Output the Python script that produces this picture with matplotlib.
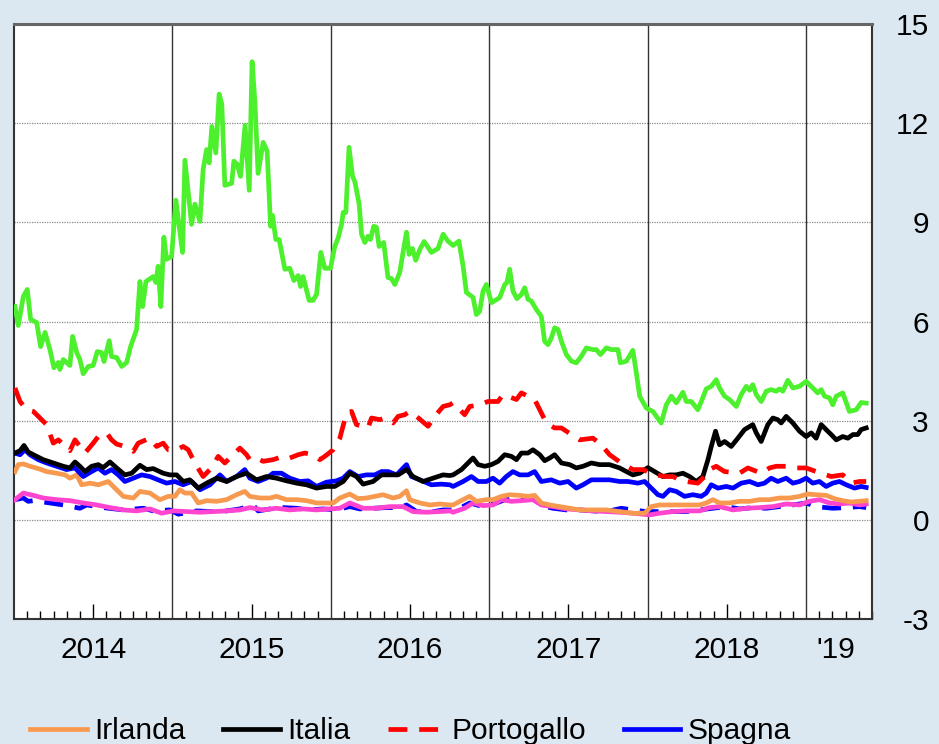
import matplotlib
matplotlib.use("Agg")
import matplotlib.pyplot as plt
import numpy as np

# anni dal 1 gennaio 2014 / spread (punti percentuali)
t_gr = [0.006, 0.027, 0.059, 0.084, 0.105, 0.143, 0.168, 0.196, 0.227, 0.252, 0.280, 0.290, 0.311, 0.353,
        0.370, 0.396, 0.416, 0.437, 0.469, 0.500, 0.526, 0.553, 0.568, 0.601, 0.616, 0.648, 0.680, 0.711,
        0.736, 0.774, 0.795, 0.812, 0.833, 0.879, 0.896, 0.910, 0.927, 0.946, 0.963, 0.995, 1.022, 1.064,
        1.079, 1.121, 1.142, 1.174, 1.194, 1.216, 1.232, 1.249, 1.274, 1.295, 1.312, 1.331, 1.374, 1.388,
        1.409, 1.430, 1.459, 1.485, 1.503, 1.521, 1.541, 1.573, 1.598, 1.620, 1.632, 1.653, 1.674, 1.710,
        1.741, 1.767, 1.794, 1.809, 1.825, 1.863, 1.888, 1.910, 1.937, 1.962, 1.998, 2.025, 2.046, 2.068,
        2.078, 2.095, 2.115, 2.137, 2.153, 2.179, 2.194, 2.215, 2.235, 2.250, 2.271, 2.288, 2.305, 2.334,
        2.361, 2.383, 2.404, 2.435, 2.456, 2.478, 2.494, 2.515, 2.536, 2.562, 2.589, 2.635, 2.677, 2.709,
        2.740, 2.772, 2.809, 2.835, 2.856, 2.898, 2.919, 2.940, 2.961, 2.982, 3.014, 3.066, 3.098, 3.112,
        3.129, 3.150, 3.175, 3.203, 3.224, 3.245, 3.266, 3.298, 3.329, 3.350, 3.371, 3.392, 3.413, 3.434,
        3.456, 3.487, 3.519, 3.550, 3.582, 3.613, 3.655, 3.676, 3.702, 3.739, 3.771, 3.813, 3.828, 3.866,
        3.907, 3.929, 3.950, 3.992, 4.033, 4.086, 4.118, 4.150, 4.181, 4.223, 4.244, 4.276, 4.317, 4.339,
        4.370, 4.402, 4.433, 4.454, 4.486, 4.517, 4.560, 4.591, 4.623, 4.644, 4.664, 4.686, 4.717, 4.749,
        4.780, 4.812, 4.833, 4.854, 4.885, 4.917, 4.959, 5.001, 5.043, 5.074, 5.096, 5.117, 5.148, 5.169,
        5.191, 5.232, 5.274, 5.317, 5.348, 5.380]
grecia = [6.45, 5.88, 6.76, 6.97, 6.06, 5.97, 5.24, 5.67, 5.15, 4.60, 4.76, 4.55, 4.85, 4.67,
          5.55, 5.06, 4.85, 4.42, 4.64, 4.67, 5.09, 5.06, 4.79, 5.42, 4.94, 4.91, 4.64, 4.76,
          5.24, 5.76, 7.21, 6.45, 7.21, 7.36, 7.18, 7.67, 6.45, 8.55, 7.88, 7.97, 9.67, 8.09,
          10.88, 8.94, 9.55, 9.03, 10.6, 11.2, 10.8, 11.9, 11.1, 12.88, 12.58, 10.12, 10.18, 10.85,
          10.76, 10.39, 11.94, 9.97, 13.86, 12.64, 10.48, 11.42, 11.15, 8.88, 9.21, 8.48, 8.48, 7.58,
          7.61, 7.24, 7.39, 7.06, 7.36, 6.64, 6.64, 6.82, 8.09, 7.61, 7.61, 8.27, 8.52, 8.94,
          9.30, 9.30, 11.27, 10.4, 10.21, 9.55, 8.64, 8.39, 8.58, 8.48, 8.88, 8.85, 8.27, 8.39,
          7.33, 7.30, 7.12, 7.48, 8.09, 8.70, 8.03, 8.21, 7.85, 8.18, 8.42, 8.09, 8.21, 8.64,
          8.43, 8.30, 8.43, 7.68, 6.88, 6.73, 6.21, 6.31, 6.92, 7.12, 6.57, 6.72, 7.12, 7.18,
          7.58, 6.92, 6.69, 6.82, 7.02, 6.67, 6.62, 6.36, 6.16, 5.40, 5.30, 5.50, 5.81, 5.76,
          5.40, 5.00, 4.80, 4.75, 4.95, 5.20, 5.15, 5.15, 5.00, 5.20, 5.15, 5.15, 4.75, 4.80,
          5.13, 4.44, 3.74, 3.38, 3.28, 2.93, 3.48, 3.74, 3.54, 3.86, 3.58, 3.58, 3.33, 3.58,
          3.96, 4.04, 4.24, 3.99, 3.74, 3.64, 3.43, 3.79, 4.04, 3.92, 4.09, 3.79, 3.58, 3.89,
          3.94, 3.89, 3.96, 3.89, 4.22, 3.99, 4.04, 4.19, 3.99, 3.84, 3.94, 3.74, 3.69, 3.48,
          3.74, 3.84, 3.28, 3.33, 3.55, 3.53]

t_pt = [0.006, 0.038, 0.080, 0.122, 0.164, 0.206, 0.248, 0.280, 0.353, 0.385, 0.448, 0.500, 0.532, 0.553,
        0.585, 0.616, 0.648, 0.700, 0.753, 0.784, 0.858, 0.900, 0.942, 0.974, 1.027, 1.068, 1.100, 1.142,
        1.194, 1.247, 1.289, 1.331, 1.384, 1.426, 1.468, 1.489, 1.531, 1.573, 1.636, 1.699, 1.741, 1.794,
        1.836, 1.888, 1.931, 1.962, 2.015, 2.057, 2.099, 2.131, 2.162, 2.235, 2.257, 2.309, 2.341, 2.393,
        2.425, 2.467, 2.498, 2.541, 2.614, 2.656, 2.709, 2.751, 2.772, 2.845, 2.877, 2.940, 2.992, 3.056,
        3.087, 3.172, 3.203, 3.287, 3.319, 3.361, 3.413, 3.456, 3.519, 3.571, 3.655, 3.708, 3.760, 3.834,
        3.907, 3.971, 4.033, 4.107, 4.160, 4.202, 4.244, 4.317, 4.360, 4.391, 4.433, 4.486, 4.580, 4.633,
        4.717, 4.770, 4.812, 4.875, 4.917, 5.001, 5.064, 5.159, 5.232, 5.285, 5.338, 5.380]
portogallo = [3.99, 3.58, 3.33, 3.28, 3.08, 2.88, 2.32, 2.42, 2.09, 2.42, 2.02, 2.32, 2.52, 2.58,
              2.63, 2.42, 2.29, 2.22, 2.07, 2.32, 2.47, 2.22, 2.32, 2.12, 2.12, 2.22, 2.12, 1.72,
              1.31, 1.57, 1.92, 1.72, 1.97, 2.17, 1.97, 1.82, 1.87, 1.77, 1.82, 1.92, 1.87, 1.97,
              2.02, 1.97, 1.82, 1.92, 2.12, 2.47, 3.23, 3.28, 2.88, 2.78, 3.08, 3.03, 3.08, 2.93,
              3.13, 3.18, 3.28, 3.13, 2.83, 3.13, 3.43, 3.48, 3.54, 3.18, 3.43, 3.48, 3.58, 3.58,
              3.79, 3.64, 3.84, 3.64, 3.33, 2.93, 2.78, 2.78, 2.58, 2.42, 2.47, 2.27, 1.97, 1.72,
              1.52, 1.52, 1.38, 1.31, 1.31, 1.21, 1.16, 1.11, 1.31, 1.52, 1.62, 1.46, 1.41, 1.57,
              1.41, 1.57, 1.62, 1.62, 1.57, 1.57, 1.46, 1.31, 1.36, 1.11, 1.16, 1.16]

t_it = [0.006, 0.038, 0.063, 0.090, 0.143, 0.185, 0.248, 0.311, 0.353, 0.385, 0.416, 0.448, 0.490, 0.532,
        0.563, 0.606, 0.648, 0.700, 0.743, 0.795, 0.837, 0.879, 0.942, 0.984, 1.027, 1.068, 1.110, 1.163,
        1.216, 1.279, 1.342, 1.405, 1.468, 1.531, 1.594, 1.657, 1.720, 1.784, 1.847, 1.910, 1.973, 2.025,
        2.078, 2.120, 2.162, 2.204, 2.267, 2.320, 2.372, 2.425, 2.478, 2.519, 2.582, 2.645, 2.709, 2.751,
        2.772, 2.825, 2.856, 2.898, 2.930, 2.972, 3.014, 3.056, 3.098, 3.140, 3.172, 3.203, 3.245, 3.276,
        3.319, 3.350, 3.382, 3.413, 3.456, 3.508, 3.550, 3.592, 3.645, 3.697, 3.760, 3.823, 3.866, 3.907,
        3.950, 4.002, 4.044, 4.097, 4.139, 4.181, 4.223, 4.265, 4.307, 4.349, 4.381, 4.402, 4.429, 4.454,
        4.486, 4.528, 4.570, 4.612, 4.664, 4.686, 4.717, 4.759, 4.791, 4.822, 4.843, 4.875, 4.917, 4.959,
        5.001, 5.033, 5.064, 5.096, 5.127, 5.159, 5.191, 5.232, 5.264, 5.296, 5.327, 5.348, 5.380]
italia = [2.02, 2.09, 2.25, 2.05, 1.92, 1.82, 1.72, 1.62, 1.57, 1.75, 1.62, 1.46, 1.62, 1.67,
          1.58, 1.75, 1.57, 1.36, 1.41, 1.65, 1.52, 1.55, 1.41, 1.36, 1.36, 1.16, 1.21, 0.96,
          1.11, 1.26, 1.16, 1.31, 1.41, 1.21, 1.31, 1.26, 1.18, 1.11, 1.06, 0.96, 1.01, 1.01,
          1.16, 1.41, 1.31, 1.08, 1.16, 1.36, 1.36, 1.36, 1.52, 1.31, 1.16, 1.26, 1.36, 1.34,
          1.36, 1.52, 1.67, 1.87, 1.67, 1.62, 1.67, 1.77, 1.97, 1.92, 1.82, 2.02, 2.02, 2.12,
          1.97, 1.79, 1.87, 1.97, 1.72, 1.67, 1.57, 1.62, 1.72, 1.67, 1.67, 1.57, 1.46, 1.36,
          1.41, 1.58, 1.46, 1.31, 1.36, 1.36, 1.41, 1.31, 1.16, 1.31, 1.82, 2.22, 2.68, 2.27,
          2.37, 2.22, 2.47, 2.73, 2.88, 2.63, 2.37, 2.88, 3.08, 3.03, 2.93, 3.13, 2.93, 2.68,
          2.52, 2.63, 2.47, 2.88, 2.73, 2.58, 2.42, 2.52, 2.47, 2.58, 2.58, 2.73, 2.78]

t_es = [0.006, 0.038, 0.069, 0.101, 0.153, 0.206, 0.269, 0.332, 0.385, 0.437, 0.490, 0.532, 0.574, 0.616,
        0.658, 0.700, 0.753, 0.806, 0.858, 0.910, 0.963, 1.016, 1.068, 1.121, 1.174, 1.237, 1.300, 1.342,
        1.405, 1.457, 1.489, 1.541, 1.594, 1.636, 1.689, 1.741, 1.804, 1.857, 1.910, 1.973, 2.036, 2.078,
        2.120, 2.172, 2.225, 2.278, 2.320, 2.362, 2.415, 2.478, 2.509, 2.562, 2.635, 2.698, 2.751, 2.772,
        2.835, 2.888, 2.930, 2.982, 3.024, 3.066, 3.108, 3.150, 3.192, 3.245, 3.287, 3.329, 3.392, 3.445,
        3.498, 3.550, 3.592, 3.645, 3.697, 3.760, 3.823, 3.876, 3.939, 3.981, 4.023, 4.065, 4.097, 4.139,
        4.181, 4.233, 4.286, 4.339, 4.370, 4.402, 4.444, 4.497, 4.539, 4.591, 4.644, 4.696, 4.738, 4.780,
        4.822, 4.875, 4.917, 4.959, 5.001, 5.043, 5.085, 5.127, 5.169, 5.211, 5.254, 5.306, 5.348, 5.380]
spagna = [2.02, 1.97, 2.12, 1.97, 1.82, 1.72, 1.62, 1.52, 1.57, 1.31, 1.46, 1.57, 1.41, 1.52,
          1.36, 1.16, 1.26, 1.36, 1.31, 1.21, 1.11, 1.16, 1.06, 1.16, 0.91, 1.06, 1.36, 1.16,
          1.31, 1.52, 1.26, 1.16, 1.26, 1.41, 1.41, 1.26, 1.16, 1.18, 1.01, 1.14, 1.18, 1.26,
          1.46, 1.31, 1.36, 1.36, 1.46, 1.46, 1.36, 1.67, 1.31, 1.21, 1.06, 1.08, 1.06, 1.01,
          1.16, 1.31, 1.16, 1.16, 1.26, 1.11, 1.31, 1.46, 1.36, 1.36, 1.46, 1.16, 1.21, 1.11,
          1.16, 0.96, 1.06, 1.21, 1.21, 1.21, 1.16, 1.16, 1.11, 1.16, 0.96, 0.76, 0.71, 0.91,
          0.86, 0.71, 0.76, 0.71, 0.81, 1.06, 0.96, 1.01, 0.96, 1.11, 1.16, 1.06, 1.11, 1.26,
          1.16, 1.26, 1.11, 1.16, 1.26, 1.11, 1.16, 1.01, 1.11, 1.16, 1.06, 0.96, 1.01, 0.98]

t_ie = [0.006, 0.027, 0.059, 0.101, 0.153, 0.206, 0.269, 0.322, 0.353, 0.396, 0.427, 0.479, 0.532, 0.595,
        0.648, 0.690, 0.753, 0.795, 0.858, 0.921, 0.974, 1.016, 1.047, 1.079, 1.121, 1.163, 1.216, 1.279,
        1.342, 1.405, 1.457, 1.489, 1.552, 1.615, 1.657, 1.720, 1.784, 1.847, 1.910, 1.973, 2.015, 2.057,
        2.120, 2.172, 2.225, 2.278, 2.330, 2.393, 2.435, 2.478, 2.498, 2.562, 2.625, 2.688, 2.751, 2.772,
        2.835, 2.877, 2.919, 2.982, 3.024, 3.077, 3.129, 3.192, 3.245, 3.287, 3.329, 3.382, 3.445, 3.508,
        3.571, 3.655, 3.739, 3.823, 3.907, 3.981, 4.023, 4.076, 4.160, 4.244, 4.328, 4.370, 4.412, 4.454,
        4.517, 4.580, 4.644, 4.707, 4.770, 4.833, 4.896, 4.959, 5.011, 5.064, 5.127, 5.180, 5.232, 5.285,
        5.338, 5.380]
irlanda = [1.46, 1.67, 1.69, 1.62, 1.55, 1.46, 1.41, 1.36, 1.26, 1.36, 1.06, 1.11, 1.06, 1.16,
           0.91, 0.71, 0.66, 0.86, 0.81, 0.61, 0.71, 0.71, 0.91, 0.81, 0.81, 0.51, 0.58, 0.56,
           0.61, 0.76, 0.86, 0.71, 0.66, 0.66, 0.71, 0.61, 0.61, 0.58, 0.51, 0.51, 0.51, 0.66,
           0.78, 0.64, 0.66, 0.71, 0.76, 0.66, 0.71, 0.88, 0.61, 0.51, 0.45, 0.48, 0.45, 0.45,
           0.61, 0.71, 0.56, 0.61, 0.61, 0.71, 0.76, 0.74, 0.71, 0.74, 0.51, 0.45, 0.40, 0.35,
           0.30, 0.30, 0.30, 0.25, 0.20, 0.20, 0.40, 0.45, 0.45, 0.45, 0.45, 0.51, 0.61, 0.51,
           0.51, 0.56, 0.56, 0.61, 0.61, 0.66, 0.66, 0.71, 0.78, 0.76, 0.74, 0.64, 0.58, 0.54,
           0.56, 0.58]

t_be = [0.006, 0.059, 0.122, 0.185, 0.269, 0.353, 0.437, 0.522, 0.606, 0.690, 0.774, 0.858, 0.932, 1.005,
        1.090, 1.174, 1.257, 1.342, 1.426, 1.489, 1.573, 1.657, 1.741, 1.825, 1.910, 1.994, 2.057, 2.120,
        2.204, 2.288, 2.372, 2.456, 2.519, 2.604, 2.688, 2.751, 2.772, 2.845, 2.898, 2.961, 3.024, 3.077,
        3.140, 3.203, 3.276, 3.329, 3.403, 3.487, 3.571, 3.655, 3.739, 3.823, 3.907, 4.013, 4.076, 4.160,
        4.244, 4.328, 4.391, 4.454, 4.539, 4.623, 4.707, 4.791, 4.875, 4.959, 5.022, 5.085, 5.148, 5.211,
        5.274, 5.338, 5.380]
belgio = [0.61, 0.81, 0.74, 0.66, 0.61, 0.58, 0.51, 0.45, 0.37, 0.30, 0.27, 0.33, 0.20, 0.27,
          0.25, 0.23, 0.25, 0.27, 0.30, 0.37, 0.30, 0.35, 0.30, 0.33, 0.30, 0.33, 0.35, 0.51,
          0.35, 0.35, 0.40, 0.40, 0.25, 0.23, 0.25, 0.27, 0.23, 0.35, 0.51, 0.43, 0.45, 0.61,
          0.56, 0.58, 0.61, 0.45, 0.40, 0.33, 0.30, 0.27, 0.25, 0.23, 0.20, 0.15, 0.20, 0.25,
          0.27, 0.27, 0.37, 0.40, 0.30, 0.35, 0.37, 0.40, 0.48, 0.45, 0.56, 0.61, 0.51, 0.48,
          0.51, 0.45, 0.48]

t_fr = [0.006, 0.059, 0.090, 0.122, 0.227, 0.311, 0.416, 0.459, 0.563, 0.690, 0.816, 0.879, 0.984, 1.037,
        1.153, 1.237, 1.342, 1.426, 1.510, 1.541, 1.615, 1.699, 1.784, 1.868, 1.951, 2.036, 2.120, 2.183,
        2.267, 2.351, 2.435, 2.478, 2.541, 2.625, 2.709, 2.793, 2.877, 2.961, 3.045, 3.129, 3.214, 3.276,
        3.329, 3.403, 3.487, 3.571, 3.655, 3.739, 3.834, 3.907, 3.992, 4.076, 4.160, 4.244, 4.328, 4.412,
        4.497, 4.580, 4.664, 4.749, 4.833, 4.917, 5.001, 5.064, 5.169, 5.254, 5.338, 5.380]
francia = [0.61, 0.66, 0.56, 0.58, 0.51, 0.45, 0.35, 0.45, 0.37, 0.30, 0.35, 0.27, 0.30, 0.17,
           0.27, 0.25, 0.27, 0.33, 0.45, 0.27, 0.33, 0.37, 0.35, 0.30, 0.33, 0.30, 0.40, 0.33,
           0.35, 0.37, 0.37, 0.45, 0.25, 0.23, 0.30, 0.30, 0.51, 0.40, 0.51, 0.66, 0.61, 0.66,
           0.43, 0.35, 0.30, 0.30, 0.27, 0.25, 0.35, 0.30, 0.25, 0.25, 0.25, 0.25, 0.30, 0.35,
           0.40, 0.33, 0.37, 0.35, 0.40, 0.45, 0.51, 0.40, 0.35, 0.37, 0.40, 0.37]

anni = [2014, 2015, 2016, 2017, 2018]
y_ticks = [-3, 0, 3, 6, 9, 12, 15]

bg = "#dce8f1"
plt.rcParams['font.family'] = ['Liberation Sans', 'DejaVu Sans']

fig = plt.figure(figsize=(9.39, 7.44), dpi=100)
fig.patch.set_facecolor(bg)
ax = fig.add_axes([14 / 939, 125 / 744, 858 / 939, 595 / 744])
ax.set_facecolor("white")

def tt(t):
    return 2014 + np.array(t)

lw = 3.4
ax.plot(tt(t_fr), francia, color="#0000ff", lw=lw, dashes=(4, 2.5), zorder=3)
ax.plot(tt(t_be), belgio, color="#ff44d0", lw=lw, zorder=3)
l_ie, = ax.plot(tt(t_ie), irlanda, color="#f79a50", lw=lw, zorder=4, label="Irlanda")
l_es, = ax.plot(tt(t_es), spagna, color="#0000ff", lw=lw, zorder=4, label="Spagna")
l_it, = ax.plot(tt(t_it), italia, color="black", lw=lw, zorder=5, label="Italia")
l_pt, = ax.plot(tt(t_pt), portogallo, color="#ff0000", lw=lw, dashes=(4, 2.5), zorder=5, label="Portogallo")
ax.plot(tt(t_gr), grecia, color="#4cf02c", lw=lw, zorder=6)

ax.set_xlim(2014, 2014 + 858 / 158.5)
ax.set_ylim(-3, 15)

# griglia orizzontale punteggiata e linee di inizio anno
for v in [0, 3, 6, 9, 12]:
    ax.axhline(v, color="#888888", lw=0.9, ls=(0, (1, 1)), zorder=1)
for a in [2015, 2016, 2017, 2018, 2019]:
    ax.axvline(a, color="#333333", lw=1.0, zorder=1)

ax.yaxis.tick_right()
ax.set_yticks(y_ticks)
ax.set_yticklabels([str(v) for v in y_ticks], fontsize=21.5)
ax.tick_params(axis="y", length=0, pad=41)
for lab in ax.get_yticklabels():
    lab.set_horizontalalignment("right")

mesi = [2014 + k / 12 for k in range(1, 66) if k % 12 != 0 and k % 12 != 6]
ax.set_xticks([a + 0.5 for a in anni])
ax.set_xticklabels([str(a) for a in anni], fontsize=21.5)
ax.set_xticks(mesi, minor=True)
ax.tick_params(axis="x", which="major", direction="in", length=11, width=1, pad=12)
ax.tick_params(axis="x", which="minor", direction="in", length=6, width=1)
ax.annotate("'19", xy=(2019.19, 0), xycoords=("data", "axes fraction"),
            xytext=(0, -12), textcoords="offset points", ha="center", va="top", fontsize=21.5)

for s in ["left", "right", "bottom"]:
    ax.spines[s].set_color("#333333")
    ax.spines[s].set_linewidth(1.5)
ax.spines["top"].set_color("#666666")
ax.spines["top"].set_linewidth(2.2)

fig.legend(handles=[l_ie, l_it, l_pt, l_es], loc="center left",
           bbox_to_anchor=(30 / 939, 13 / 744), ncol=4, frameon=False, fontsize=21.5,
           handlelength=1.9, handletextpad=0.25, columnspacing=1.25, borderpad=0,
           borderaxespad=0)

fig.savefig("out.png", dpi=100, facecolor=bg)
